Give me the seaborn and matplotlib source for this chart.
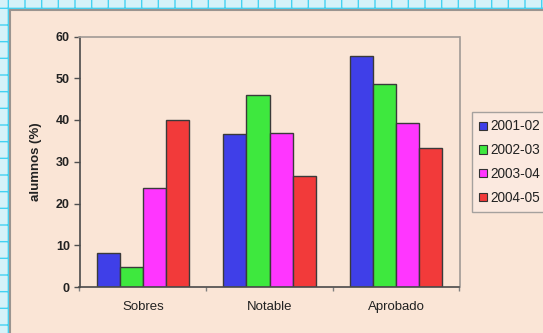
import matplotlib
matplotlib.use("Agg")
import matplotlib.pyplot as plt
import seaborn as sns
import pandas as pd
from matplotlib.patches import Rectangle
from matplotlib.lines import Line2D
from matplotlib.ticker import FixedLocator

categories = ["Sobres", "Notable", "Aprobado"]
series = ["2001-02", "2002-03", "2003-04", "2004-05"]
v_2001 = [8.2, 36.6, 55.3]
v_2002 = [4.8, 46.1, 48.6]
v_2003 = [23.7, 36.8, 39.4]
v_2004 = [40.0, 26.7, 33.3]
yticks = [0, 10, 20, 30, 40, 50, 60]
ylabel = "alumnos (%)"

colors = ["#3F3FE8", "#3EE83E", "#FF36FF", "#F23A3A"]
bg = "#FAE5D6"

rows = []
for s, vals in zip(series, [v_2001, v_2002, v_2003, v_2004]):
    for c, v in zip(categories, vals):
        rows.append({"cat": c, "serie": s, "val": v})
df = pd.DataFrame(rows)

sns.set_theme(style="white")
plt.rcParams["font.family"] = ["Liberation Sans", "DejaVu Sans"]

W, H = 543, 333
fig = plt.figure(figsize=(W / 100, H / 100), dpi=100)
fig.patch.set_facecolor(bg)

ax = fig.add_axes([79.5 / W, (H - 287) / H, 380 / W, 250.5 / H])
ax.set_facecolor(bg)
sns.barplot(data=df, x="cat", y="val", hue="serie", order=categories,
            hue_order=series, palette=colors, width=0.73, gap=0,
            edgecolor="#3a3a3a", linewidth=1.0, saturation=1, ax=ax,
            legend=False)

ax.set_xlim(-0.5, 2.5)
ax.set_ylim(0, 60)
ax.set_yticks(yticks)
ax.set_yticklabels([str(t) for t in yticks], fontsize=9, fontweight="bold", color="#222222")
ax.set_xticks(range(len(categories)))
ax.set_xticklabels(categories, fontsize=9.5, color="#222222")
ax.xaxis.set_minor_locator(FixedLocator([-0.5, 0.5, 1.5, 2.5]))
ax.tick_params(axis="x", which="major", length=0, pad=10)
ax.tick_params(axis="x", which="minor", length=3, color="#808080", width=1, direction="out", bottom=True)
ax.tick_params(axis="y", length=4, color="#505050", width=1, direction="out", left=True, pad=3)
ax.set_xlabel("")
ax.set_ylabel(ylabel, fontsize=9.5, fontweight="bold", color="#222222", labelpad=10)

for side in ["left", "bottom"]:
    ax.spines[side].set_color("#4a4a4a")
    ax.spines[side].set_linewidth(1.2)
for side in ["top", "right"]:
    ax.spines[side].set_color("#a09a96")
    ax.spines[side].set_linewidth(1.2)
    ax.spines[side].set_visible(True)

handles = [Rectangle((0, 0), 1, 1, facecolor=c, edgecolor="#333333", linewidth=0.8) for c in colors]
leg = fig.legend(handles, series, loc="upper left", bbox_to_anchor=(472 / W, 1 - 112 / H),
                 borderaxespad=0, frameon=True, fontsize=9.8, handlelength=0.55, handleheight=0.55,
                 handletextpad=0.25, labelspacing=0.72, borderpad=0.55, fancybox=False)
leg.get_frame().set_edgecolor("#909090")
leg.get_frame().set_facecolor("#FCEBE2")
leg.get_frame().set_linewidth(1)
for t in leg.get_texts():
    t.set_color("#222222")

# page border strips (cyan pattern) and chart frame
fig.patches.append(Rectangle((0, 1 - 9 / H), 1, 9 / H, transform=fig.transFigure,
                             facecolor="#D5F2F9", edgecolor="#45D2F2", hatch="+", linewidth=0, zorder=0))
fig.patches.append(Rectangle((0, 0), 9 / W, 1, transform=fig.transFigure,
                             facecolor="#D5F2F9", edgecolor="#45D2F2", hatch="+", linewidth=0, zorder=0))
fig.lines.append(Line2D([10 / W, 1], [1 - 10 / H, 1 - 10 / H], transform=fig.transFigure, color="#9a9490", linewidth=1.5))
fig.lines.append(Line2D([10 / W, 10 / W], [0, 1 - 10 / H], transform=fig.transFigure, color="#9a9490", linewidth=1.5))

fig.savefig("out.png", dpi=100, facecolor=bg)
